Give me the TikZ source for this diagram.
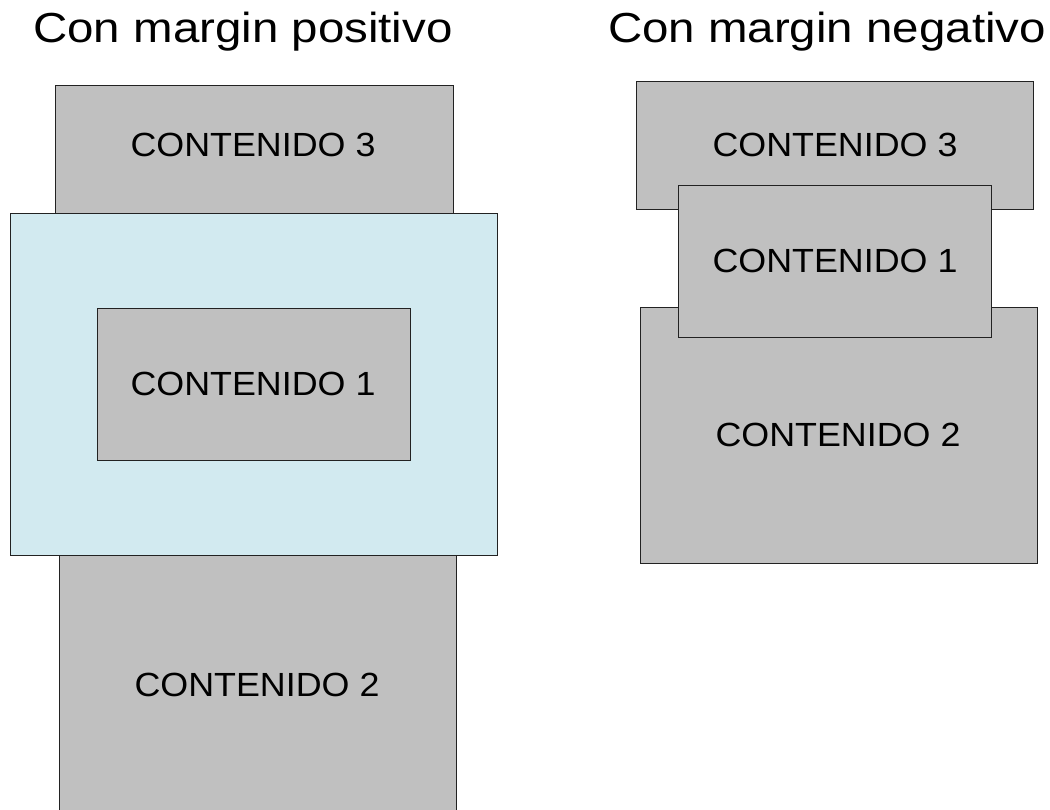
\documentclass[tikz,border=0pt]{standalone}
\usepackage{fontspec}
\setmainfont{Liberation Sans}
\definecolor{boxgray}{HTML}{C0C0C0}
\definecolor{boxblue}{HTML}{D2EAF0}
\definecolor{edge}{HTML}{222222}
\begin{document}
\begin{tikzpicture}[x=1pt,y=-1pt,
  box/.style={draw=edge, line width=0.9pt, fill=boxgray, inner sep=0pt, outer sep=0pt, rectangle},
  bluebox/.style={box, fill=boxblue},
  lbl/.style={inner sep=0pt, font=\fontsize{33.5}{40}\selectfont},
  ttl/.style={inner sep=0pt, font=\fontsize{42}{50}\selectfont}]
\useasboundingbox (0,0) rectangle (1050,810);
\clip (0,0) rectangle (1050,810);
% titles
\node[ttl] (t1) at (243,32) {\scalebox{1.13}[1]{Con margin positivo}};
\node[ttl] (t2) at (827,32) {\scalebox{1.13}[1]{Con margin negativo}};
% left: positive margin
\node[box, minimum width=398pt, minimum height=128pt] (lc3) at (254,149) {};
\node[bluebox, minimum width=487pt, minimum height=342pt] (lblue) at (254,384) {};
\node[box, minimum width=313pt, minimum height=152pt] (lc1) at (254,384) {};
\node[box, minimum width=397pt, minimum height=280pt] (lc2) at (257.5,695) {};
\node[lbl] (lt3) at (253,145) {\scalebox{1.07}[1]{CONTENIDO 3}};
\node[lbl] (lt1) at (253,384) {\scalebox{1.07}[1]{CONTENIDO 1}};
\node[lbl] (lt2) at (257,685) {\scalebox{1.07}[1]{CONTENIDO 2}};
% right: negative margin
\node[box, minimum width=397pt, minimum height=128pt] (rc3) at (835,145) {};
\node[box, minimum width=397pt, minimum height=256pt] (rc2) at (838.5,435) {};
\node[box, minimum width=313pt, minimum height=152pt] (rc1) at (835,261) {};
\node[lbl] (rt3) at (835,145) {\scalebox{1.07}[1]{CONTENIDO 3}};
\node[lbl] (rt1) at (835,261) {\scalebox{1.07}[1]{CONTENIDO 1}};
\node[lbl] (rt2) at (838,435) {\scalebox{1.07}[1]{CONTENIDO 2}};
\end{tikzpicture}
\end{document}
